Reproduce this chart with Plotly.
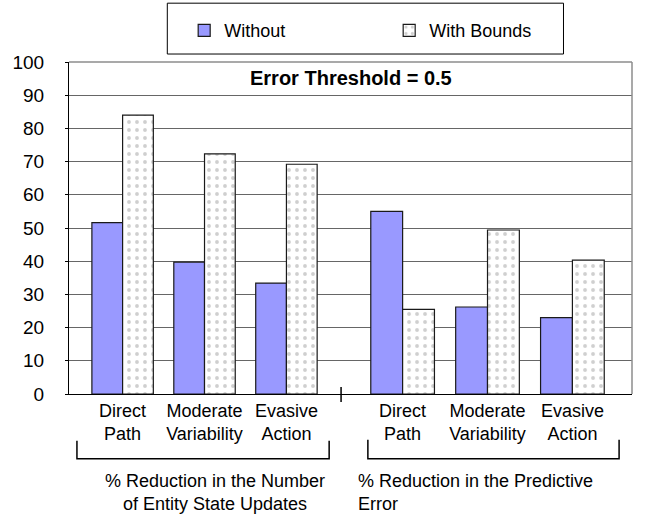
import plotly.graph_objects as go

# ---------------- data ----------------
categories = ["Direct<br>Path", "Moderate<br>Variability", "Evasive<br>Action"]
series_names = ["Without", "With Bounds"]
updates_without = [51.6, 39.7, 33.4]
updates_bounds = [84.0, 72.3, 69.2]
error_without = [55.0, 26.2, 23.0]
error_bounds = [25.5, 49.4, 40.3]
group_titles = [
    "% Reduction in the Number<br>of Entity State Updates",
    "% Reduction in the Predictive<br>Error",
]
y_ticks = list(range(0, 101, 10))
title_text = "Error Threshold = 0.5"

# ---------------- layout helpers ----------------
W, H = 645, 514
ML, MR, MT, MB = 65, 13, 61, 120
PW = W - ML - MR
PH = H - MT - MB


def px_x(p):
    return (p - ML) / PW


def px_y(p):
    return (H - MB - p) / PH


FONT = "Liberation Sans, Arial, sans-serif"
SPLIT = px_x(339)

without_marker = dict(color="#9999FF", line=dict(color="#1a1a1a", width=1.2))
bounds_marker = dict(
    color="white",
    line=dict(color="#1a1a1a", width=1.2),
    pattern=dict(shape=".", fgcolor="#a0a0a0", size=8, solidity=0.18),
)

fig = go.Figure()
for xa, wv, bv, show in [
    ("x", updates_without, updates_bounds, True),
    ("x2", error_without, error_bounds, False),
]:
    fig.add_trace(go.Bar(x=categories, y=wv, name=series_names[0], marker=without_marker,
                         xaxis=xa, yaxis="y", legendgroup="w", showlegend=show,
                         hoverinfo="skip"))
    fig.add_trace(go.Bar(x=categories, y=bv, name=series_names[1], marker=bounds_marker,
                         xaxis=xa, yaxis="y", legendgroup="b", showlegend=show,
                         hoverinfo="skip"))

xcommon = dict(type="category", showline=True, linecolor="black", linewidth=1,
               ticks="", showgrid=False, zeroline=False, anchor="y",
               tickfont=dict(family=FONT, size=18, color="black"), fixedrange=True)

shapes = [
    # plot frame (top & right, gray)
    dict(type="line", xref="paper", yref="paper", x0=0, x1=1, y0=1, y1=1,
         line=dict(color="#8c8c8c", width=1.5), layer="above"),
    dict(type="line", xref="paper", yref="paper", x0=1, x1=1, y0=0, y1=1,
         line=dict(color="#8c8c8c", width=1.5), layer="above"),
    # separator tick between groups
    dict(type="line", xref="paper", yref="paper", x0=SPLIT, x1=SPLIT,
         y0=px_y(402), y1=px_y(387), line=dict(color="black", width=1.5)),
    # brackets
    dict(type="path", xref="paper", yref="paper",
         path=f"M{px_x(73)},{px_y(441)} L{px_x(73)},{px_y(459)} L{px_x(327)},{px_y(459)} L{px_x(327)},{px_y(441)}",
         line=dict(color="black", width=1.5)),
    dict(type="path", xref="paper", yref="paper",
         path=f"M{px_x(366)},{px_y(440)} L{px_x(366)},{px_y(459)} L{px_x(619)},{px_y(459)} L{px_x(619)},{px_y(440)}",
         line=dict(color="black", width=1.5)),
    # legend box
    dict(type="rect", xref="paper", yref="paper", x0=px_x(164), x1=px_x(563),
         y0=px_y(53), y1=px_y(2), line=dict(color="black", width=1)),
]

annotations = [
    dict(text=f"<b>{title_text}</b>", xref="paper", yref="paper", x=px_x(349.5), y=px_y(77.5),
         xanchor="center", yanchor="middle", showarrow=False,
         font=dict(family=FONT, size=20, color="black")),
    dict(text=group_titles[0], xref="paper", yref="paper", x=px_x(212), y=px_y(493),
         xanchor="center", yanchor="middle", align="center", showarrow=False,
         font=dict(family=FONT, size=18, color="black")),
    dict(text=group_titles[1], xref="paper", yref="paper", x=px_x(354), y=px_y(493),
         xanchor="left", yanchor="middle", align="left", showarrow=False,
         font=dict(family=FONT, size=18, color="black")),
]

fig.update_layout(
    width=W, height=H,
    margin=dict(l=ML, r=MR, t=MT, b=MB, pad=0),
    paper_bgcolor="white", plot_bgcolor="white",
    barmode="group", bargap=0.25, bargroupgap=0,
    font=dict(family=FONT, size=18, color="black"),
    xaxis=dict(domain=[0, SPLIT], range=[-0.6545, 2.667], **xcommon),
    xaxis2=dict(domain=[SPLIT, 1], range=[-0.725, 2.702], **xcommon),
    yaxis=dict(range=[0, 100], tickvals=y_ticks, showgrid=True, gridcolor="#666666",
               gridwidth=1, showline=True, linecolor="black", linewidth=1,
               ticks="outside", ticklen=3, tickcolor="black", zeroline=False,
               anchor="x", ticklabelstandoff=17, fixedrange=True,
               tickfont=dict(family=FONT, size=19, color="black")),
    legend=dict(orientation="h", x=px_x(181), xanchor="left", y=px_y(29.5),
                yanchor="middle", entrywidth=160, entrywidthmode="pixels",
                borderwidth=0, bgcolor="rgba(0,0,0,0)",
                font=dict(family=FONT, size=18, color="black")),
    shapes=shapes,
    annotations=annotations,
    showlegend=True,
)

fig.write_html(
    "out.html",
    config={"displayModeBar": False},
    post_script="document.body.style.margin='0px';document.body.style.padding='0px';",
)
